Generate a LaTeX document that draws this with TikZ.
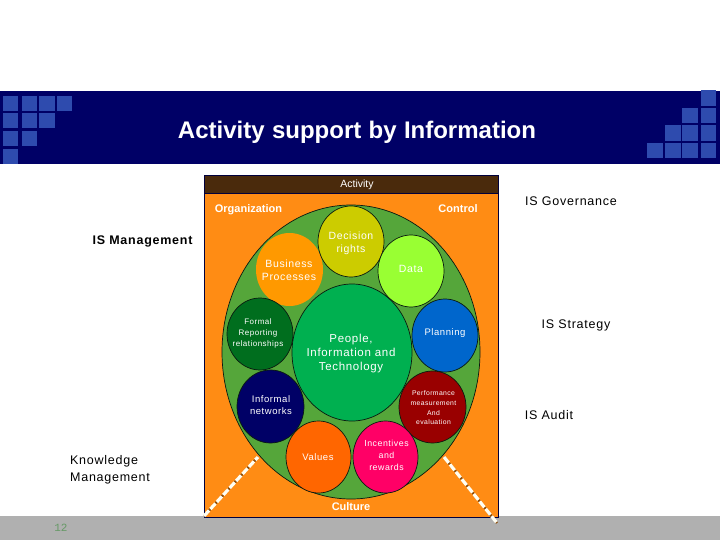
\documentclass[tikz,border=0pt]{standalone}
\usepackage{fontspec}
\setmainfont{Liberation Sans}
\setmonofont{Liberation Mono}
\newfontfamily\spaced[LetterSpace=6]{Liberation Sans}
\usetikzlibrary{shapes.geometric}
\definecolor{navy}{HTML}{000066}
\definecolor{tile}{HTML}{2E4BAE}
\definecolor{brownband}{HTML}{4A2A0C}
\definecolor{orangebg}{HTML}{FF8C14}
\definecolor{biggreen}{HTML}{55A63A}
\definecolor{footgrey}{HTML}{B0B0B0}
\definecolor{edgedark}{HTML}{0A1A10}
\tikzset{
  x=1pt,y=-1pt,
  tile/.style={fill=tile,draw=none,minimum size=15.5pt,inner sep=0pt,rectangle},
  bubble/.style={ellipse,draw=edgedark,line width=0.7pt,inner sep=0pt},
  bubbletext/.style={text=white,inner sep=0pt,align=center},
  plainlabel/.style={text=black,inner sep=0pt,align=left},
  boxlabel/.style={text=white,inner sep=0pt,align=center},
  leader/.style={white!95!yellow,line width=3.2pt,dash pattern=on 7.5pt off 2pt},
  leaderbase/.style={orangebg!55!black,line width=2.4pt}
}
\begin{document}
\begin{tikzpicture}
\useasboundingbox (0,0) rectangle (720,540);
\fill[white] (0,0) rectangle (720,540);
\fill[navy] (0,91) rectangle (720,164);
\fill[footgrey] (0,516) rectangle (720,540);
% left tiles
\foreach \cx/\cy in {10.5/103.5,29.5/103.5,47/103.5,64.5/103.5,
                     10.5/120.5,29.5/120.5,47/120.5,
                     10.5/138.5,29.5/138.5,
                     10.5/156.5}
  \node[tile] at (\cx,\cy) {};
% right tiles
\foreach \cx/\cy in {708.5/98,
                     690/115.5,708.5/115.5,
                     673/133,690/133,708.5/133,
                     655/150.5,673/150.5,690/150.5,708.5/150.5}
  \node[tile] at (\cx,\cy) {};
\node[boxlabel,font=\fontsize{22}{26}\selectfont\bfseries,text width=400pt] (title) at (357,132.5) {\fontsize{24}{28}\selectfont Activity support by Information};
% main panel
\fill[orangebg] (204.5,175) rectangle (498,517);
\draw[fill=none,draw=navy!60!black,line width=0.7pt] (204.5,175) rectangle (498,517);
\fill[brownband,draw=navy!60!black,line width=0.7pt] (204.5,175) rectangle (498,193);
\node[boxlabel,font=\fontsize{10.5}{11}\selectfont] (activity) at (357,184.5) {Activity};
\node[bubble,fill=biggreen,minimum width=258pt,minimum height=294pt] (big) at (351,352) {};
\node[boxlabel,font=\fontsize{11}{11}\selectfont\bfseries] (org) at (248.5,209.5) {Organization};
\node[boxlabel,font=\fontsize{11}{11}\selectfont\bfseries] (control) at (458,209) {Control};
\node[boxlabel,font=\fontsize{11}{11}\selectfont\bfseries] (culture) at (351,507) {Culture};
% bubbles
\node[bubble,fill={rgb,255:red,255;green,153;blue,0},draw=none,minimum width=67pt,minimum height=73pt] (bp) at (289.5,269.5) {};
\node[bubble,fill={rgb,255:red,204;green,204;blue,0},minimum width=66pt,minimum height=71pt] (dr) at (351,241.5) {};
\node[bubble,fill={rgb,255:red,153;green,255;blue,51},minimum width=66pt,minimum height=72pt] (data) at (411,271) {};
\node[bubble,fill={rgb,255:red,0;green,176;blue,80},minimum width=120pt,minimum height=137pt] (people) at (352,352.5) {};
\node[bubble,fill={rgb,255:red,0;green,110;blue,30},minimum width=66pt,minimum height=72pt] (formal) at (260,334) {};
\node[bubble,fill={rgb,255:red,0;green,102;blue,204},minimum width=66pt,minimum height=73pt] (planning) at (445,335.5) {};
\node[bubble,fill=navy,minimum width=67pt,minimum height=73pt] (informal) at (270.5,406.5) {};
\node[bubble,fill={rgb,255:red,153;green,0;blue,0},minimum width=67pt,minimum height=72pt] (perf) at (432.5,407) {};
\node[bubble,fill={rgb,255:red,255;green,102;blue,0},minimum width=65pt,minimum height=72pt] (values) at (318.5,457) {};
\node[bubble,fill={rgb,255:red,255;green,0;blue,102},minimum width=65pt,minimum height=72pt] (incent) at (385.5,457) {};
% bubble texts
\node[bubbletext,font=\fontsize{10.5}{13}\spaced] at (289,270.5) {Business\\Processes};
\node[bubbletext,font=\fontsize{10.5}{13}\spaced] at (351,243) {Decision\\rights};
\node[bubbletext,font=\fontsize{10.5}{12}\spaced] at (411,269) {Data};
\node[bubbletext,font=\fontsize{11.5}{14}\spaced] at (351,353.5) {People,\\Information and\\Technology};
\node[bubbletext,font=\fontsize{8}{11}\spaced] at (258,333) {Formal\\Reporting\\relationships};
\node[bubbletext,font=\fontsize{9.5}{12}\spaced] at (445,333.5) {Planning};
\node[bubbletext,font=\fontsize{9.5}{12}\spaced] at (271,405.5) {Informal\\networks};
\node[bubbletext,font=\fontsize{6.8}{9.7}\spaced] at (433.5,408) {Performance\\measurement\\And\\evaluation};
\node[bubbletext,font=\fontsize{9.5}{12}\spaced] at (318,457.5) {Values};
\node[bubbletext,font=\fontsize{8.8}{12}\spaced] at (386.5,455) {Incentives\\and\\rewards};
% outside labels
\node[plainlabel,font=\fontsize{12.5}{12.5}\spaced] (gov) at (571,201) {IS Governance};
\node[plainlabel,font=\fontsize{12.5}{12.5}\spaced] (strat) at (576,325.5) {IS Strategy};
\node[plainlabel,font=\fontsize{12.5}{12.5}\spaced] (audit) at (549,415) {IS Audit};
\node[plainlabel,font=\fontsize{12.5}{12.5}\spaced\bfseries] (mgmt) at (142.5,241.5) {IS Management};
\node[plainlabel,font=\fontsize{12.5}{17}\spaced] (km) at (110,469.5) {Knowledge\\Management};
\node[inner sep=0pt,text={rgb,255:red,102;green,153;blue,102},font=\fontsize{11}{11}\ttfamily] (pageno) at (61,528) {12};
% leaders
\coordinate (la) at (204,516);
\coordinate (lb) at (258,457);
\coordinate (ra) at (444,457);
\coordinate (rb) at (497,523);
\draw[leaderbase] (la) -- (lb);
\draw[leader] (la) -- (lb);
\draw[leaderbase] (ra) -- (rb);
\draw[leader] (ra) -- (rb);
\end{tikzpicture}
\end{document}
